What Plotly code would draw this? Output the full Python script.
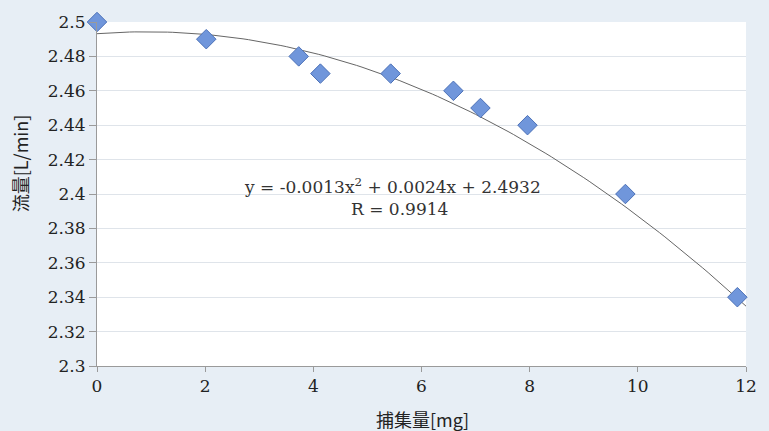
import numpy as np
import plotly.graph_objects as go

# Data
capture_mg = [0.0, 2.02, 3.73, 4.13, 5.43, 6.59, 7.09, 7.96, 9.77, 11.84]
flow_lpm = [2.50, 2.49, 2.48, 2.47, 2.47, 2.46, 2.45, 2.44, 2.40, 2.34]
# Trendline coefficients as printed on the chart (x^2, x, const)
trend_coeffs = [-0.0013, 0.0024, 2.4932]
trend_label = "y = -0.0013x<sup>2</sup> + 0.0024x + 2.4932"
r_label = "R = 0.9914"
x_ticks = [0, 2, 4, 6, 8, 10, 12]
y_ticks = [2.3, 2.32, 2.34, 2.36, 2.38, 2.4, 2.42, 2.44, 2.46, 2.48, 2.5]
y_ticktext = ["2.3", "2.32", "2.34", "2.36", "2.38", "2.4", "2.42", "2.44", "2.46", "2.48", "2.5"]

trend_x = np.linspace(0, 12, 121)
trend_y = np.polyval(trend_coeffs, trend_x)

serif = "DejaVu Serif"
cjk = "Noto Sans CJK JP"

fig = go.Figure()
fig.add_trace(go.Scatter(
    x=trend_x, y=trend_y, mode="lines",
    line=dict(color="#666666", width=1),
    hoverinfo="skip", showlegend=False,
))
fig.add_trace(go.Scatter(
    x=capture_mg, y=flow_lpm, mode="markers",
    marker=dict(symbol="diamond", size=15, color="#7096db",
                line=dict(color="#4d72b8", width=1)),
    cliponaxis=False, showlegend=False,
))

fig.update_layout(
    width=769, height=431,
    margin=dict(l=97, r=12, t=17, b=65),
    paper_bgcolor="#e7eef5",
    plot_bgcolor="#ffffff",
    font=dict(family=serif, size=17, color="#222222"),
    xaxis=dict(
        range=[0, 12], tickvals=x_ticks, showgrid=False,
        showline=True, linecolor="#9a9a9a", linewidth=1,
        ticks="outside", ticklen=5, tickcolor="#9a9a9a",
        zeroline=False, tickfont=dict(family=serif, size=17, color="#222222"),
    ),
    yaxis=dict(
        range=[2.3, 2.5], tickvals=y_ticks, ticktext=y_ticktext,
        showgrid=True, gridcolor="#dfe4ea", gridwidth=1,
        showline=True, linecolor="#9a9a9a", linewidth=1,
        ticks="outside", ticklen=7, tickcolor="#9a9a9a",
        zeroline=False, tickfont=dict(family=serif, size=17, color="#222222"),
    ),
    annotations=[
        dict(x=397, y=183, text=trend_label,
             showarrow=False, font=dict(family=serif, size=17, color="#333333")),
        dict(x=405, y=207, text=r_label,
             showarrow=False, font=dict(family=serif, size=17, color="#333333")),
        dict(x=19, y=160, text="流量[L/min]", textangle=-90, showarrow=False,
             font=dict(family=cjk, size=18, color="#222222")),
        dict(x=428, y=420, text="捕集量[mg]", showarrow=False,
             font=dict(family=cjk, size=18, color="#222222")),
    ],
)

# convert pixel positions of annotations to paper coordinates
pl, pr, pt, pb = 97, 769 - 12, 17, 431 - 65
for a in fig.layout.annotations:
    px, py = a.x, a.y
    a.xref = "paper"; a.yref = "paper"
    a.x = (px - pl) / (pr - pl)
    a.y = (pb - py) / (pb - pt)
    a.xanchor = "center"; a.yanchor = "middle"

fig.write_html("out.html", config={"displayModeBar": False},
               post_script="document.body.style.margin='0';")
